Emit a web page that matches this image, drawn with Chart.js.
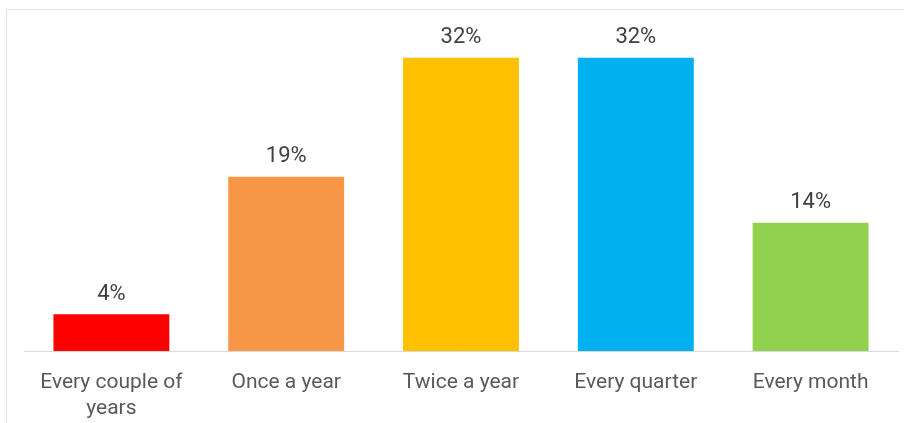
<!DOCTYPE html>
<html>
<head>
<meta charset="utf-8">
<script src="https://cdn.jsdelivr.net/npm/chart.js@4.4.1/dist/chart.umd.min.js"></script>
<style>
  html, body { margin: 0; padding: 0; background: #fff; overflow: hidden; }
  #frame {
    position: absolute; left: 6px; top: 9px; width: 920px; height: 440px;
    border-left: 1px solid #e3e3e3; border-top: 1px solid #e3e3e3;
  }
  #wrap { position: absolute; left: 0; top: 0; width: 904px; height: 423px; }
</style>
</head>
<body>
<div id="frame"></div>
<div id="wrap"><canvas id="barChart"></canvas></div>
<script>
// How often the review happens, share of respondents
const categories = [['Every couple of', 'years'], 'Once a year', 'Twice a year', 'Every quarter', 'Every month'];
const shares = [4, 19, 32, 32, 14];
const barColors = ['#FF0000', '#F79646', '#FFC000', '#00B0F0', '#92D050'];

// Percent labels above each bar
const valueLabels = {
  id: 'valueLabels',
  afterDatasetsDraw(chart) {
    const { ctx } = chart;
    const meta = chart.getDatasetMeta(0);
    ctx.save();
    ctx.font = '22px Roboto, "Liberation Sans", sans-serif';
    ctx.fillStyle = '#404040';
    ctx.textAlign = 'center';
    ctx.textBaseline = 'middle';
    meta.data.forEach((bar, i) => {
      ctx.fillText(shares[i] + '%', bar.x, bar.y - 20);
    });
    ctx.restore();
  }
};

const ctx = document.getElementById('barChart').getContext('2d');
new Chart(ctx, {
  type: 'bar',
  data: {
    labels: categories,
    datasets: [{
      data: shares,
      backgroundColor: barColors,
      borderWidth: 0,
      categoryPercentage: 1,
      barPercentage: 0.663
    }]
  },
  options: {
    responsive: true,
    maintainAspectRatio: false,
    animation: false,
    layout: { padding: { left: 24, right: 6, top: 21, bottom: 0 } },
    plugins: {
      legend: { display: false },
      tooltip: { enabled: false }
    },
    scales: {
      x: {
        grid: { display: false, drawTicks: false },
        border: { display: true, color: '#d9d9d9', width: 1 },
        afterFit(scale) { scale.height = 72; },
        ticks: {
          color: '#595959',
          padding: 19,
          maxRotation: 0,
          autoSkip: false,
          font: { family: 'Roboto, "Liberation Sans", sans-serif', size: 21, lineHeight: 1.24 }
        }
      },
      y: {
        display: false,
        min: 0,
        max: 36
      }
    }
  },
  plugins: [valueLabels]
});
</script>
</body>
</html>
